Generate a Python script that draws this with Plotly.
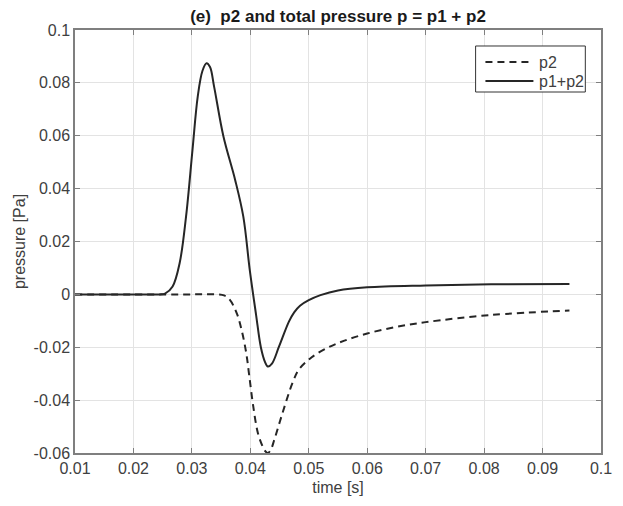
import plotly.graph_objects as go

# time [s] and pressure [Pa]
t_total = [0.010, 0.020, 0.0245, 0.0254, 0.0267, 0.0279, 0.0290, 0.0301, 0.0310, 0.0318,
           0.0325, 0.0331, 0.0338, 0.0354, 0.0374, 0.0388, 0.0399, 0.0410, 0.0418, 0.0425,
           0.0430, 0.0437, 0.0449, 0.0466, 0.0475, 0.0485, 0.0500, 0.0520, 0.0550, 0.0600,
           0.0700, 0.0812, 0.0946]
p_total = [0.0, 0.0, 0.0, 0.0003, 0.0030, 0.0118, 0.0294, 0.0546, 0.0748, 0.0845,
           0.0874, 0.0860, 0.0786, 0.0597, 0.0433, 0.0294, 0.0093, -0.0080, -0.0200, -0.0255,
           -0.0273, -0.0262, -0.0198, -0.0103, -0.0068, -0.0043, -0.0022, -0.0003, 0.0015, 0.0027,
           0.0034, 0.0038, 0.0039]

t_p2 = [0.010, 0.030, 0.0345, 0.0355, 0.0365, 0.0377, 0.0385, 0.0393, 0.0399, 0.0405,
        0.0413, 0.0421, 0.0426, 0.0430, 0.0435, 0.0441, 0.0455, 0.0472, 0.0483, 0.0505,
        0.0534, 0.0561, 0.0600, 0.0650, 0.0700, 0.0812, 0.0946]
p_p2 = [0.0, 0.0, 0.0, -0.0004, -0.0021, -0.0073, -0.0134, -0.0222, -0.0323, -0.0424,
        -0.0525, -0.0575, -0.0594, -0.0600, -0.0588, -0.0550, -0.0449, -0.0336, -0.0285, -0.0238,
        -0.0200, -0.0175, -0.0148, -0.0123, -0.0105, -0.0078, -0.0061]

x_ticks = [0.01, 0.02, 0.03, 0.04, 0.05, 0.06, 0.07, 0.08, 0.09, 0.1]
x_labels = ["0.01", "0.02", "0.03", "0.04", "0.05", "0.06", "0.07", "0.08", "0.09", "0.1"]
y_ticks = [-0.06, -0.04, -0.02, 0, 0.02, 0.04, 0.06, 0.08, 0.1]
y_labels = ["-0.06", "-0.04", "-0.02", "0", "0.02", "0.04", "0.06", "0.08", "0.1"]
series_names = ["p2", "p1+p2"]

line_col = "#262626"
axis_col = "#7f7f7f"
text_col = "#404040"
font_family = "Liberation Sans, Arial, sans-serif"
p2_dash = "7px,5px"

fig = go.Figure()
fig.add_trace(go.Scatter(x=t_p2, y=p_p2, mode="lines", name=series_names[0], showlegend=False,
                         line=dict(color=line_col, width=2, dash=p2_dash, shape="spline", smoothing=1.0)))
fig.add_trace(go.Scatter(x=t_total, y=p_total, mode="lines", name=series_names[1], showlegend=False,
                         line=dict(color=line_col, width=2, shape="spline", smoothing=1.0)))

axis_common = dict(showline=True, linecolor=axis_col, linewidth=1.5, mirror="ticks",
                   ticks="inside", ticklen=5, tickcolor=axis_col, tickwidth=1,
                   showgrid=True, gridcolor="#e3e3e3", gridwidth=1, zeroline=False,
                   tickfont=dict(family=font_family, size=16, color=text_col))

fig.update_xaxes(range=[0.01, 0.1], tickvals=x_ticks, ticktext=x_labels,
                 title=dict(text="time [s]", font=dict(family=font_family, size=16, color=text_col), standoff=6),
                 **axis_common)
fig.update_yaxes(range=[-0.06, 0.1], tickvals=y_ticks, ticktext=y_labels,
                 title=dict(text="pressure [Pa]", font=dict(family=font_family, size=16, color=text_col), standoff=4),
                 **axis_common)

# legend box (MATLAB style), in plot-area fractions
lg_x0, lg_x1, lg_y0, lg_y1 = 0.7616, 0.9702, 0.8534, 0.9622
ln_x0, ln_x1, txt_x = 0.7803, 0.8715, 0.8790
row_y = [0.9243, 0.8794]
shapes = [dict(type="rect", xref="paper", yref="paper", x0=lg_x0, x1=lg_x1, y0=lg_y0, y1=lg_y1,
               line=dict(color="#333333", width=1), fillcolor="white", layer="above")]
annotations = []
for name, ry, dash in zip(series_names, row_y, [p2_dash, "solid"]):
    shapes.append(dict(type="line", xref="paper", yref="paper", x0=ln_x0, x1=ln_x1, y0=ry, y1=ry,
                       line=dict(color=line_col, width=2, dash=dash), layer="above"))
    annotations.append(dict(text=name, xref="paper", yref="paper", x=txt_x, y=ry, xanchor="left",
                            yanchor="middle", showarrow=False,
                            font=dict(family=font_family, size=16, color=text_col)))

fig.update_layout(
    width=623, height=506,
    margin=dict(l=75, r=11, t=30, b=53, pad=0),
    paper_bgcolor="white", plot_bgcolor="white",
    title=dict(text="<b>(e)  p2 and total pressure p = p1 + p2</b>", x=0.5, xref="paper",
               y=1 - 16 / 506, yref="container", yanchor="middle", xanchor="center",
               font=dict(family=font_family, size=17, color="#1a1a1a")),
    shapes=shapes, annotations=annotations,
    showlegend=False,
)

fig.write_html("out.html")
